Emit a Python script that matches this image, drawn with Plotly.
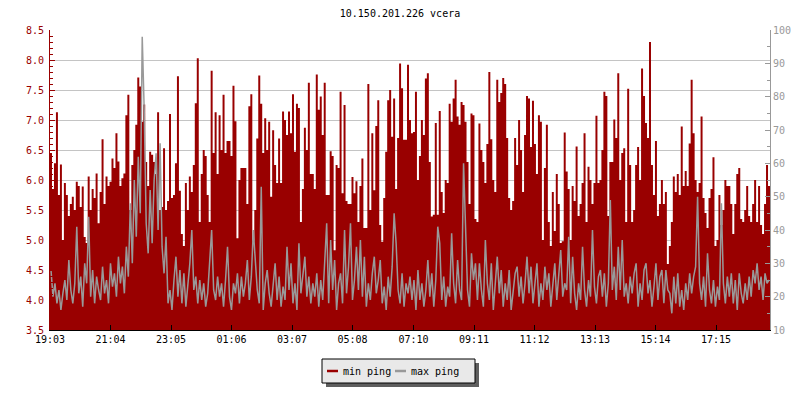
import plotly.graph_objects as go
import pandas as pd

# ---------------- data ----------------
title_text = "10.150.201.226 vcera"
start_time = "2024-05-01 19:03"
span_minutes = 1440
series_names = ["min ping", "max ping"]
tick_labels = ["19:03", "21:04", "23:05", "01:06", "03:07", "05:08",
               "07:10", "09:11", "11:12", "13:13", "15:14", "17:15"]

# min ping (ms, left axis), read left to right
min_ping_a = [6.45, 5.85, 6.28, 7.13, 5.75, 6.26, 5.0, 5.95, 5.75, 5.4, 5.6, 5.72, 5.5, 5.97, 5.9, 5.55,
              5.89, 5.05, 4.95, 6.06, 5.5, 5.85, 5.7, 6.11, 5.28, 5.8, 6.68, 5.6, 6.06, 5.9, 5.97, 6.36,
              6.2, 6.78, 6.31, 5.9, 6.03, 6.11, 7.08, 7.42, 5.5, 6.25, 6.5, 6.92, 7.71, 7.56, 6.97, 7.26,
              6.3, 5.9, 6.47, 6.42]
min_ping_b = [6.3, 6.1, 7.13, 5.5, 5.55, 6.53, 5.5, 5.65, 7.1, 5.7, 5.75, 6.28, 7.73, 5.82, 5.1, 4.9,
              5.95, 5.5, 6.06, 5.8, 6.25, 7.28, 8.03, 5.3, 6.1, 6.5, 6.4, 5.75, 5.3, 7.82, 6.45, 7.13,
              6.1, 7.08, 6.5, 7.42, 6.45, 6.65, 6.65, 6.4, 7.57, 6.98, 5.03, 6.0, 6.2, 6.2, 6.2, 5.6,
              7.23, 7.43, 4.98, 5.5]
min_ping_c = [6.69, 7.74, 7.27, 6.45, 7.03, 6.5, 6.97, 5.72, 6.83, 6.25, 5.95, 6.69, 5.95, 7.14, 7.0, 6.75,
              7.14, 6.78, 7.43, 6.47, 7.27, 7.2, 5.3, 5.85, 6.87, 6.5, 7.62, 6.1, 6.1, 5.85, 7.76, 7.17,
              7.39, 6.75, 7.62, 5.75, 5.75, 6.48, 6.4, 4.83, 6.25, 6.2, 7.47, 5.78, 7.25, 5.65, 5.6, 5.6,
              6.05, 5.78, 5.98, 5.3]
min_ping_d = [5.9, 6.36, 5.2, 5.2, 7.6, 5.5, 6.78, 5.83, 6.9, 7.33, 5.25, 4.97, 5.7, 6.47, 7.33, 7.5,
              6.72, 7.36, 5.85, 6.7, 7.94, 7.53, 6.67, 6.67, 7.92, 7.0, 6.78, 6.8, 7.47, 6.0, 6.4, 7.0,
              6.75, 7.69, 7.78, 6.3, 5.39, 5.42, 6.95, 5.42, 7.15, 5.8, 5.45, 6.0, 5.95, 7.27, 6.97, 7.36,
              7.67, 7.06, 6.92, 7.3]
min_ping_e = [7.25, 6.97, 6.3, 5.6, 7.11, 7.08, 5.35, 5.3, 6.94, 6.5, 6.3, 5.95, 6.6, 7.8, 6.68, 6.0,
              5.8, 7.67, 7.3, 7.45, 7.7, 7.6, 6.7, 5.7, 5.5, 5.65, 6.7, 6.25, 7.0, 6.5, 5.8, 6.75,
              7.4, 7.36, 6.55, 7.32, 6.6, 6.1, 7.08, 6.97, 5.0, 6.2, 6.92, 5.3, 4.9, 5.8, 5.15, 6.1,
              5.6, 4.95, 4.98, 6.79]
min_ping_f = [6.14, 5.85, 5.0, 5.9, 5.65, 6.56, 5.4, 5.6, 5.95, 6.78, 5.3, 6.22, 6.0, 5.6, 5.95, 7.07,
              5.95, 6.0, 6.5, 7.47, 7.4, 5.4, 6.3, 6.3, 7.01, 6.7, 7.78, 6.0, 6.45, 6.53, 5.3, 7.52,
              6.25, 5.3, 5.5, 6.25, 6.55, 6.0, 7.86, 7.4, 6.95, 6.7, 8.3, 6.25, 5.75, 6.65, 5.4, 5.6,
              6.0, 5.6, 5.8, 4.6]
min_ping_g = [4.9, 5.3, 6.06, 5.8, 6.1, 5.75, 6.89, 5.9, 6.15, 5.9, 6.61, 7.67, 6.78, 6.0, 5.8, 5.95,
              7.06, 5.7, 5.45, 5.2, 5.7, 5.85, 6.38, 4.9, 5.0, 5.75, 5.25, 5.5, 6.0, 5.9, 5.9, 5.6,
              5.1, 5.6, 6.1, 6.2, 5.35, 5.3, 5.5, 5.9, 5.4, 5.3, 5.6, 6.0, 5.3, 5.9, 5.25, 5.1,
              5.6, 6.25, 5.9]

# max ping (ms, right axis)
max_ping_a = [28, 20, 24, 18, 22, 16, 21, 25, 19, 31, 22, 18, 24, 41, 21, 26, 17, 30, 24, 44, 20, 28, 18, 26,
              22, 19, 29, 21, 25, 18, 30, 23, 27, 20, 32, 24, 29, 21, 35, 26, 48, 30, 55, 38, 62, 45, 98, 76,
              42, 33, 52, 36]
max_ping_b = [55, 63, 40, 66, 35, 27, 38, 18, 22, 16, 25, 32, 20, 28, 18, 27, 17, 24, 30, 40, 22, 26, 18, 25,
              19, 24, 17, 21, 32, 40, 22, 19, 26, 20, 24, 17, 25, 35, 20, 16, 24, 21, 27, 18, 26, 20, 24, 31,
              19, 26, 40, 30]
max_ping_c = [22, 18, 53, 16, 24, 28, 21, 17, 25, 30, 19, 26, 17, 23, 19, 35, 22, 30, 18, 24, 16, 36, 21, 27,
              32, 20, 26, 18, 24, 20, 27, 17, 25, 19, 30, 42, 18, 37, 22, 31, 16, 24, 27, 18, 40, 21, 29, 42,
              19, 25, 35, 22]
max_ping_d = [37, 20, 32, 17, 24, 19, 27, 32, 21, 25, 31, 18, 23, 16, 26, 20, 29, 45, 36, 22, 18, 27, 17, 24,
              21, 26, 19, 25, 16, 28, 19, 24, 17, 22, 31, 20, 27, 17, 25, 41, 36, 19, 26, 17, 23, 20, 39, 24,
              18, 31, 22, 19]
max_ping_e = [60, 39, 22, 17, 33, 25, 30, 19, 30, 22, 17, 37, 24, 19, 30, 16, 25, 32, 21, 28, 17, 24, 19, 28,
              16, 22, 27, 29, 20, 26, 18, 24, 32, 21, 29, 18, 25, 30, 17, 24, 19, 29, 22, 27, 17, 24, 30, 19,
              26, 34, 20, 24]
max_ping_f = [22, 38, 18, 32, 21, 16, 24, 19, 35, 22, 17, 25, 20, 40, 23, 18, 26, 28, 20, 27, 17, 24, 49, 22,
              29, 19, 35, 22, 37, 20, 24, 18, 26, 21, 27, 30, 17, 24, 19, 28, 30, 21, 25, 17, 23, 30, 19, 26,
              28, 18, 28, 22]
max_ping_g = [21, 15, 26, 18, 27, 17, 22, 16, 24, 19, 27, 21, 26, 29, 50, 24, 19, 26, 17, 33, 22, 18, 25, 17,
              23, 19, 48, 24, 18, 26, 20, 27, 18, 25, 16, 27, 21, 18, 24, 19, 26, 20, 28, 24, 30, 22, 26, 19,
              27, 24, 25]

min_ping = min_ping_a + min_ping_b + min_ping_c + min_ping_d + min_ping_e + min_ping_f + min_ping_g
max_ping = max_ping_a + max_ping_b + max_ping_c + max_ping_d + max_ping_e + max_ping_f + max_ping_g

# ---------------- style ----------------
RED = "#990000"
GRAY = "#999999"
GRID = "#c4c4c4"
FONT = "DejaVu Sans Mono"
FS = 10

t0 = pd.Timestamp(start_time)
t_end = t0 + pd.Timedelta(minutes=span_minutes)


def step_series(values):
    """Sample start times for an evenly sampled series; the last value is held to the end of the span."""
    n = len(values)
    step = pd.Timedelta(minutes=span_minutes) / n
    xs = [t0 + step * i for i in range(n)] + [t_end]
    ys = list(values) + [values[-1]]
    return xs, ys


def mid_series(values):
    n = len(values)
    step = pd.Timedelta(minutes=span_minutes) / n
    return [t0 + step * (i + 0.5) for i in range(n)], list(values)


def label_time(lbl):
    h, m = (int(v) for v in lbl.split(":"))
    t = t0.normalize() + pd.Timedelta(hours=h, minutes=m)
    if t < t0:
        t += pd.Timedelta(days=1)
    return t


tick_vals = [label_time(s) for s in tick_labels]

x_min, y_min = step_series(min_ping)
x_max, y_max = mid_series(max_ping)

fig = go.Figure()
fig.add_trace(go.Scatter(x=x_min, y=y_min, name=series_names[0], mode="lines",
                         line=dict(color=RED, width=0, shape="hv"), fill="tozeroy", fillcolor=RED,
                         showlegend=False, yaxis="y", hoverinfo="skip"))
fig.add_trace(go.Scatter(x=x_max, y=y_max, name=series_names[1], mode="lines",
                         line=dict(color=GRAY, width=1.5),
                         showlegend=False, yaxis="y2", hoverinfo="skip"))

# plot area in pixels: x 50..770, y 30..330
L, R, T, B = 50, 770, 30, 330


def pxx(x):
    return (x - L) / (R - L)


def pxy(y):
    return (B - y) / (B - T)


shapes = [
    dict(type="rect", xref="paper", yref="paper", x0=pxx(326), x1=pxx(479), y0=pxy(387), y1=pxy(363),
         fillcolor="#5e5e5e", line=dict(width=0), layer="above"),
    dict(type="rect", xref="paper", yref="paper", x0=pxx(322), x1=pxx(475), y0=pxy(383), y1=pxy(359),
         fillcolor="#e9e9e9", line=dict(width=1, color="black"), layer="above"),
    dict(type="line", xref="paper", yref="paper", x0=pxx(327), x1=pxx(338), y0=pxy(371), y1=pxy(371),
         line=dict(width=2.5, color=RED), layer="above"),
    dict(type="line", xref="paper", yref="paper", x0=pxx(395), x1=pxx(406), y0=pxy(371), y1=pxy(371),
         line=dict(width=2.5, color=GRAY), layer="above"),
]
annotations = [
    dict(text=series_names[0], xref="paper", yref="paper", x=pxx(341), y=pxy(371.5), xanchor="left",
         yanchor="middle", showarrow=False, font=dict(family=FONT, size=FS, color="black")),
    dict(text=series_names[1], xref="paper", yref="paper", x=pxx(409), y=pxy(371.5), xanchor="left",
         yanchor="middle", showarrow=False, font=dict(family=FONT, size=FS, color="black")),
]

fig.update_layout(
    width=800, height=400,
    margin=dict(l=L, r=800 - R, t=T, b=400 - B, autoexpand=False),
    paper_bgcolor="white", plot_bgcolor="white",
    title=dict(text=title_text, x=0.5, xanchor="center", y=1 - 13 / 400, yanchor="middle",
               yref="container", font=dict(family=FONT, size=FS, color="black")),
    font=dict(family=FONT, size=FS),
    xaxis=dict(type="date", range=[t0, t_end], tickmode="array", tickvals=tick_vals, ticktext=tick_labels,
               ticks="inside", ticklen=5, tickcolor="black", showline=True, linecolor="black",
               showgrid=False, zeroline=False, automargin=False,
               tickfont=dict(family=FONT, size=FS, color="black")),
    yaxis=dict(range=[3.5, 8.5], tick0=3.5, dtick=0.5, tickformat=".1f", ticks="inside", ticklen=5,
               tickcolor=RED, showline=True, linecolor=RED, gridcolor=GRID, zeroline=False,
               automargin=False, ticklabelstandoff=3,
               tickfont=dict(family=FONT, size=FS, color=RED),
               minor=dict(tick0=3.5, dtick=0.1, ticks="inside", ticklen=3, tickcolor=RED, showgrid=False)),
    yaxis2=dict(range=[10, 100], tick0=10, dtick=10, overlaying="y", side="right", ticks="inside",
                ticklen=5, tickcolor=GRAY, showline=True, linecolor=GRAY, showgrid=False, zeroline=False,
                automargin=False,
                tickfont=dict(family=FONT, size=FS, color=GRAY),
                minor=dict(tick0=10, dtick=5, ticks="inside", ticklen=3, tickcolor=GRAY, showgrid=False)),
    shapes=shapes,
    annotations=annotations,
)

fig.write_html("out.html", config={"displayModeBar": False},
               post_script="document.body.style.margin='0px';")
